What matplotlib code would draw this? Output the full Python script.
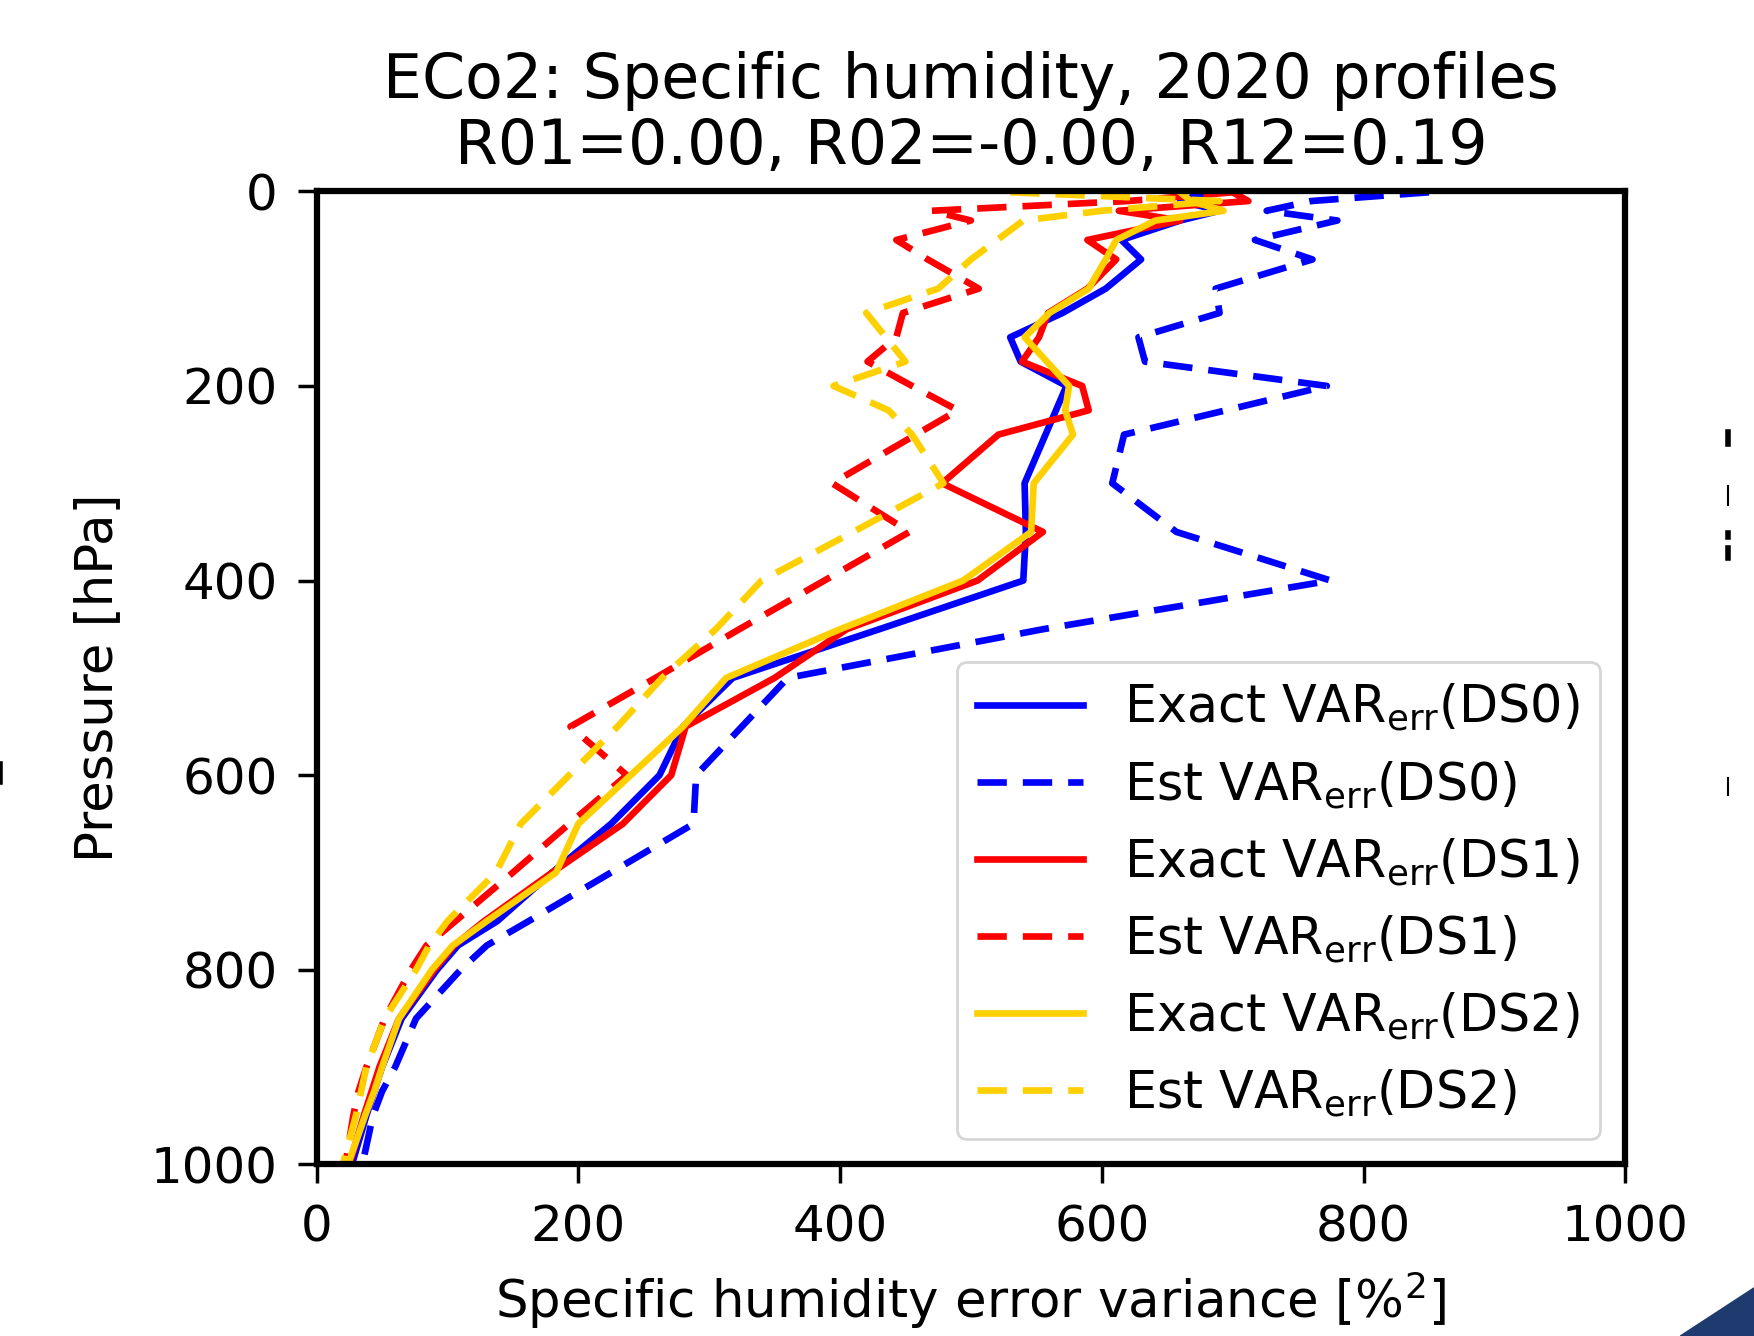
import matplotlib
matplotlib.use("Agg")
import matplotlib.pyplot as plt
from matplotlib.lines import Line2D
from matplotlib.patches import Polygon

# pressure levels [hPa]
levels = [1, 10, 20, 30, 50, 70, 100, 125, 150, 175, 200, 225, 250, 300, 350,
          400, 450, 500, 550, 600, 650, 700, 750, 775, 800, 850, 900, 925, 950, 1000]

# error variances
exact_ds0 = [680, 660, 690, 660, 615, 630, 603, 570, 530, 538, 573, 565, 557, 541, 542,
             540, 430, 318, 280, 262, 225, 180, 138, 108, 92, 65, 50, 44, 38, 27]
est_ds0 = [850, 760, 726, 780, 717, 761, 687, 690, 628, 633, 772, 695, 617, 608, 657,
           775, 555, 360, 325, 290, 288, 225, 162, 130, 110, 76, 60, 50, 43, 35]
exact_ds1 = [700, 712, 613, 660, 589, 611, 589, 559, 552, 539, 585, 590, 521, 478, 555,
             505, 405, 350, 282, 271, 234, 180, 128, 105, 90, 63, 48, 42, 36, 25]
est_ds1 = [700, 620, 470, 500, 443, 467, 506, 448, 443, 421, 455, 490, 458, 394, 453,
           388, 323, 259, 194, 237, 193, 150, 106, 84, 72, 52, 38, 32, 28, 22]
exact_ds2 = [660, 668, 693, 641, 611, 603, 590, 560, 541, 558, 575, 572, 578, 548, 546,
             494, 400, 313, 280, 240, 200, 183, 130, 104, 88, 63, 50, 44, 37, 24]
est_ds2 = [530, 690, 600, 540, 520, 500, 475, 420, 435, 450, 395, 437, 455, 479, 410,
           340, 305, 264, 230, 193, 156, 137, 100, 86, 76, 52, 38, 34, 30, 20]

title = "ECo2: Specific humidity, 2020 profiles\nR01=0.00, R02=-0.00, R12=0.19"
x_ticks = [0, 200, 400, 600, 800, 1000]
y_ticks = [0, 200, 400, 600, 800, 1000]

plt.rcParams["font.family"] = "DejaVu Sans"
plt.rcParams["mathtext.default"] = "regular"

fig = plt.figure(figsize=(17.54, 13.36), dpi=100)
ax = fig.add_axes([0.1805, 0.1284, 0.7461, 0.7284])

lw = 4.8
dash = (4.4, 2.4)
ax.plot(exact_ds0, levels, color="#0000ff", lw=lw, label="Exact VAR$_{err}$(DS0)")
ax.plot(est_ds0, levels, color="#0000ff", lw=lw, dashes=dash, label="Est VAR$_{err}$(DS0)")
ax.plot(exact_ds1, levels, color="#ff0000", lw=lw, label="Exact VAR$_{err}$(DS1)")
ax.plot(est_ds1, levels, color="#ff0000", lw=lw, dashes=dash, label="Est VAR$_{err}$(DS1)")
ax.plot(exact_ds2, levels, color="#ffd000", lw=lw, label="Exact VAR$_{err}$(DS2)")
ax.plot(est_ds2, levels, color="#ffd000", lw=lw, dashes=dash, label="Est VAR$_{err}$(DS2)")

ax.set_xlim(0, 1000)
ax.set_ylim(1000, 0)
ax.set_xticks(x_ticks)
ax.set_yticks(y_ticks)
ax.tick_params(labelsize=36, length=14, width=2.5, pad=14)
for sp in ax.spines.values():
    sp.set_linewidth(4.5)

ax.set_xlabel("Specific humidity error variance [%$^2$]", fontsize=37, labelpad=13)
ax.set_ylabel("Pressure [hPa]", fontsize=37, labelpad=20)
ax.set_title(title, fontsize=44.5, pad=20, linespacing=1.12)

leg = ax.legend(loc="lower right", fontsize=36.5, handlelength=2.1,
                handletextpad=0.8, borderaxespad=0.5, framealpha=0.8)
leg.get_frame().set_linewidth(2)

# screenshot leftovers round the plot
for y0, y1, w in [(0.668, 0.677, 4), (0.622, 0.636, 1.5), (0.598, 0.601, 4),
                  (0.582, 0.590, 4), (0.405, 0.418, 1.5)]:
    fig.add_artist(Line2D([0.985, 0.985], [y0, y1], color="black", lw=w))
fig.add_artist(Line2D([0.0, 0.0], [0.415, 0.428], color="black", lw=4))
fig.add_artist(Polygon([[0.958, 0.0], [1.0, 0.036], [1.0, 0.0]],
                       closed=True, color="#1f3a6e"))

fig.savefig("out.png", dpi=100)
